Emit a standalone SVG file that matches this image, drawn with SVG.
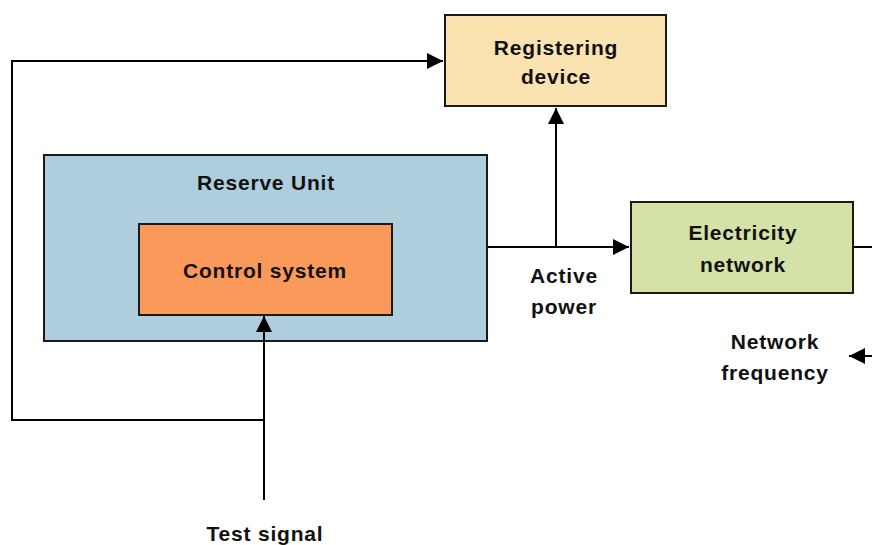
<svg xmlns="http://www.w3.org/2000/svg" width="872" height="545" viewBox="0 0 872 545">
<style>
.box{stroke:#1a1a1a;stroke-width:2}
.t{font-family:"Liberation Sans",Arial,sans-serif;font-weight:bold;font-size:21px;fill:#111;text-anchor:middle;letter-spacing:0.8px}
.ln{fill:none;stroke:#000;stroke-width:2}
</style>
<defs>
<marker id="ahb" viewBox="0 0 10 10" refX="10" refY="5" markerWidth="16" markerHeight="16" markerUnits="userSpaceOnUse" orient="auto">
<path d="M0,0 L10,5 L0,10 z" fill="#000"/>
</marker>
</defs>
<g id="registering-device">
<rect class="box" x="445" y="15" width="221" height="91" fill="#FBE3B1"/>
<text class="t" x="556" y="55">Registering</text>
<text class="t" x="556" y="84">device</text>
</g>
<g id="reserve-unit">
<rect class="box" x="44" y="155" width="443" height="186" fill="#AECEDD"/>
<text class="t" x="266" y="190">Reserve Unit</text>
</g>
<g id="control-system">
<rect class="box" x="139" y="224" width="253" height="91" fill="#FB995A"/>
<text class="t" x="265" y="278">Control system</text>
</g>
<g id="electricity-network">
<rect class="box" x="631" y="202" width="222" height="91" fill="#D4E2A7"/>
<text class="t" x="743" y="240">Electricity</text>
<text class="t" x="743" y="272">network</text>
</g>
<g id="connectors">
<path class="ln" d="M264,500 V316" marker-end="url(#ahb)"/>
<path class="ln" d="M264,420 H12 V61 H443" marker-end="url(#ahb)"/>
<path class="ln" d="M488,247 H629" marker-end="url(#ahb)"/>
<path class="ln" d="M556,247 V108" marker-end="url(#ahb)"/>
<path class="ln" d="M854,247 H872"/>
<path class="ln" d="M872,356 H849" marker-end="url(#ahb)"/>
</g>
<g id="labels">
<text class="t" x="564" y="283">Active</text>
<text class="t" x="564" y="314">power</text>
<text class="t" x="775" y="349">Network</text>
<text class="t" x="775" y="380">frequency</text>
<text class="t" x="265" y="541">Test signal</text>
</g>
</svg>
